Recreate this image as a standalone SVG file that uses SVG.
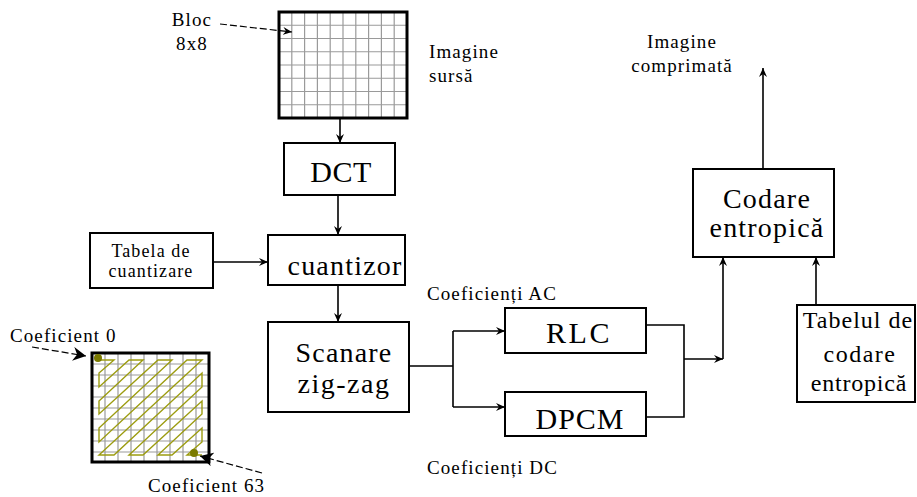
<svg xmlns="http://www.w3.org/2000/svg" width="917" height="497" viewBox="0 0 917 497">
<defs>
<style>
.box{fill:#fff;stroke:#000;stroke-width:2}
.ln{fill:none;stroke:#000;stroke-width:1.6}
.arr{fill:none;stroke:#000;stroke-width:1.6;marker-end:url(#ah)}
.dash{fill:none;stroke:#000;stroke-width:1.2;stroke-dasharray:7 3}
.big{font-family:"Liberation Serif","Times New Roman",serif;font-size:28px;letter-spacing:1.2px;fill:#000;text-anchor:middle}
.sm{font-family:"Liberation Serif","Times New Roman",serif;font-size:19px;letter-spacing:1.1px;fill:#000}
.grid{stroke:#9a9a9a;stroke-width:1.2}
.zz{fill:none;stroke:#9c9c10;stroke-width:1.4}
</style>
<marker id="ah" markerUnits="userSpaceOnUse" markerWidth="10" markerHeight="10" refX="9" refY="5" orient="auto">
<path d="M0,1 L9,5 L0,9 L3,5 z" fill="#000"/>
</marker>
<marker id="ahb" markerUnits="userSpaceOnUse" markerWidth="14" markerHeight="14" refX="13" refY="7" orient="auto">
<path d="M0,0 L13,7 L0,14 L4,7 z" fill="#000"/>
</marker>
</defs>

<g id="bloc-label">
<text class="sm" x="192" y="26" text-anchor="middle">Bloc</text>
<text class="sm" x="192" y="50" text-anchor="middle">8x8</text>
</g>

<g id="source-image">
<rect x="279" y="12" width="128" height="106" fill="#fff"/>
<g class="grid">
<line x1="291.8" y1="12" x2="291.8" y2="118"/>
<line x1="304.6" y1="12" x2="304.6" y2="118"/>
<line x1="317.4" y1="12" x2="317.4" y2="118"/>
<line x1="330.2" y1="12" x2="330.2" y2="118"/>
<line x1="343" y1="12" x2="343" y2="118"/>
<line x1="355.8" y1="12" x2="355.8" y2="118"/>
<line x1="368.6" y1="12" x2="368.6" y2="118"/>
<line x1="381.4" y1="12" x2="381.4" y2="118"/>
<line x1="394.2" y1="12" x2="394.2" y2="118"/>
<line x1="279" y1="25.25" x2="407" y2="25.25"/>
<line x1="279" y1="38.5" x2="407" y2="38.5"/>
<line x1="279" y1="51.75" x2="407" y2="51.75"/>
<line x1="279" y1="65" x2="407" y2="65"/>
<line x1="279" y1="78.25" x2="407" y2="78.25"/>
<line x1="279" y1="91.5" x2="407" y2="91.5"/>
<line x1="279" y1="104.75" x2="407" y2="104.75"/>
</g>
<rect x="279" y="12" width="128" height="106" fill="none" stroke="#000" stroke-width="3"/>
</g>

<g id="source-label">
<text class="sm" x="429" y="58">Imagine</text>
<text class="sm" x="429" y="82">sursă</text>
</g>

<g id="output-label">
<text class="sm" x="682" y="48" text-anchor="middle">Imagine</text>
<text class="sm" x="682" y="72" text-anchor="middle">comprimată</text>
</g>

<g id="dct">
<rect class="box" x="284" y="143" width="111" height="52"/>
<text class="big" x="341" y="182" style="font-size:30px;letter-spacing:0.5px">DCT</text>
</g>

<g id="tabela">
<rect class="box" x="90" y="233" width="123" height="55"/>
<text class="sm" x="151" y="257" text-anchor="middle" style="font-size:18px">Tabela de</text>
<text class="sm" x="151" y="277" text-anchor="middle" style="font-size:18px">cuantizare</text>
</g>

<g id="cuantizor">
<rect class="box" x="268" y="235" width="137" height="50"/>
<text class="big" x="345" y="275">cuantizor</text>
</g>

<g id="scanare">
<rect class="box" x="268" y="322" width="141" height="90"/>
<text class="big" x="344" y="362">Scanare</text>
<text class="big" x="344" y="393" style="letter-spacing:1.5px">zig-zag</text>
</g>

<g id="rlc">
<rect class="box" x="505" y="308" width="141" height="45"/>
<text class="big" x="579" y="343" style="font-size:30px;letter-spacing:2.5px">RLC</text>
</g>

<g id="dpcm">
<rect class="box" x="505" y="392" width="141" height="44"/>
<text class="big" x="580" y="429" style="font-size:30px;letter-spacing:1px">DPCM</text>
</g>

<g id="ac-label">
<text class="sm" x="427" y="300">Coeficienți AC</text>
</g>
<g id="dc-label">
<text class="sm" x="427" y="474">Coeficienți DC</text>
</g>

<g id="codare">
<rect class="box" x="693" y="169" width="141" height="88"/>
<text class="big" x="767" y="208">Codare</text>
<text class="big" x="767" y="237">entropică</text>
</g>

<g id="tabelul">
<rect class="box" x="797" y="305" width="118" height="97"/>
<text class="big" x="858" y="328" style="font-size:24px;letter-spacing:1px">Tabelul de</text>
<text class="big" x="860" y="362" style="font-size:24px;letter-spacing:1.5px">codare</text>
<text class="big" x="859" y="391" style="font-size:24px;letter-spacing:0.8px">entropică</text>
</g>

<g id="zigzag-block">
<rect x="92" y="353" width="117" height="109" fill="#fff"/>
<g class="grid">
<line x1="105" y1="353" x2="105" y2="462"/>
<line x1="118" y1="353" x2="118" y2="462"/>
<line x1="131" y1="353" x2="131" y2="462"/>
<line x1="144" y1="353" x2="144" y2="462"/>
<line x1="157" y1="353" x2="157" y2="462"/>
<line x1="170" y1="353" x2="170" y2="462"/>
<line x1="183" y1="353" x2="183" y2="462"/>
<line x1="196" y1="353" x2="196" y2="462"/>
<line x1="92" y1="364" x2="209" y2="364"/>
<line x1="92" y1="375" x2="209" y2="375"/>
<line x1="92" y1="386" x2="209" y2="386"/>
<line x1="92" y1="397" x2="209" y2="397"/>
<line x1="92" y1="408" x2="209" y2="408"/>
<line x1="92" y1="419" x2="209" y2="419"/>
<line x1="92" y1="430" x2="209" y2="430"/>
<line x1="92" y1="441" x2="209" y2="441"/>
<line x1="92" y1="452" x2="209" y2="452"/>
</g>
<path class="zz" d="M99,360 L114,360 L99,373 L99,387 L129,360 L143,360 L99,401 L99,414 L158,360 L172,360 L99,428 L99,442 L187,360 L202,360 L99,455 L114,455 L202,373 L202,387 L129,455 L143,455 L202,401 L202,414 L158,455 L172,455 L202,428 L202,442 L187,455 L202,455"/>
<rect x="92" y="353" width="117" height="109" fill="none" stroke="#000" stroke-width="3"/>
<circle cx="98" cy="358" r="4" fill="#7a7a00"/>
<circle cx="194" cy="453" r="4" fill="#7a7a00"/>
</g>

<g id="coef0-label">
<text class="sm" x="10" y="342">Coeficient 0</text>
</g>
<g id="coef63-label">
<text class="sm" x="148" y="492">Coeficient 63</text>
</g>

<g id="connectors">
<path class="dash" d="M220,24 L292,32" marker-end="url(#ah)"/>
<path class="dash" d="M32,347 L86,356" marker-end="url(#ahb)"/>
<path class="dash" d="M262,473 L200,456" marker-end="url(#ahb)"/>
<path class="arr" d="M340,118 L340,143"/>
<path class="arr" d="M338,195 L338,235"/>
<path class="arr" d="M213,262 L268,262"/>
<path class="arr" d="M338,285 L338,322"/>
<path class="ln" d="M409,366 L453,366 M453,331 L453,407"/>
<path class="arr" d="M453,331 L505,331"/>
<path class="arr" d="M453,407 L505,407"/>
<path class="ln" d="M646,325 L684,325 L684,417 L646,417"/>
<path class="arr" d="M684,359 L723,359"/>
<path class="arr" d="M723,359 L723,257"/>
<path class="arr" d="M816,305 L816,257"/>
<path class="arr" d="M763,169 L763,68"/>
</g>
</svg>
